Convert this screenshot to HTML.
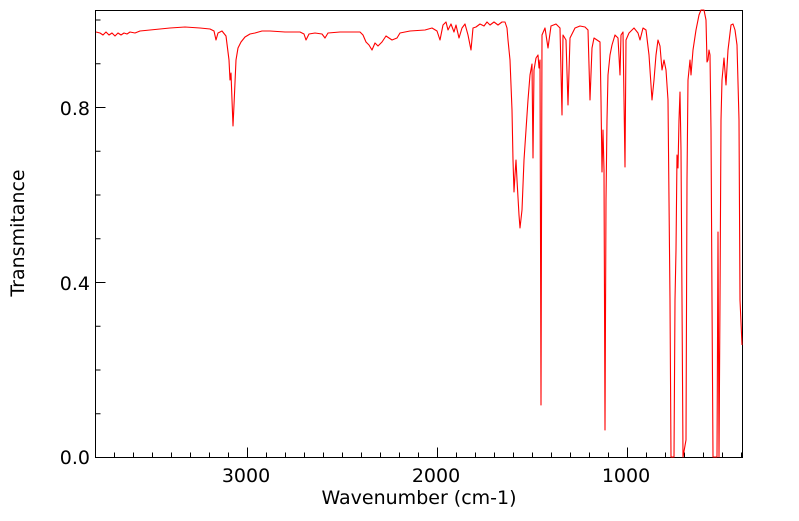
<!DOCTYPE html>
<html><head><style>
body{margin:0;background:#fff;width:799px;height:516px;overflow:hidden}
svg text{font-family:"DejaVu Sans","Liberation Sans",sans-serif;fill:#000}
</style></head><body>
<svg width="799" height="516" xmlns="http://www.w3.org/2000/svg">
<rect x="95.5" y="10.5" width="647" height="447" fill="none" stroke="#000" stroke-width="1"/>
<g stroke="#000" stroke-width="1" id="ticks"></g>
<g font-size="19">
<text x="246" y="482" text-anchor="middle">3000</text>
<text x="436" y="482" text-anchor="middle">2000</text>
<text x="626" y="482" text-anchor="middle">1000</text>
<text x="90" y="464" text-anchor="end">0.0</text>
<text x="90" y="290" text-anchor="end">0.4</text>
<text x="90" y="115" text-anchor="end">0.8</text>
<text x="419" y="504" text-anchor="middle">Wavenumber (cm-1)</text>
<text transform="translate(24,233) rotate(-90)" text-anchor="middle">Transmitance</text>
</g>
<polyline fill="none" stroke="#ff0000" stroke-width="1.1" stroke-linejoin="round" points="
96,32 100,33 103,35 106,32 109,35 112,33 115,36 118,33 121,35 124,33 127,34 130,32 135,33 140,31 150,30 160,29 170,28 185,27 200,28 210,29 214,31 216,40 218,33 222,31 226,36 229,60 230,80 231,73 232,100 233,126 234,105 236,60 238,48 241,42 245,37 250,34 255,33 262,31 270,31 285,32 300,32 304,34 306,40 309,34 315,33 322,34 325,38 328,33 340,32 360,32 363,35 366,42 369,45 372,50 375,43 378,46 382,42 386,36 392,40 397,38 400,33 410,31 425,30 432,28 437,31 440,40 443,25 446,22 448,30 451,24 454,32 456,25 459,38 462,28 465,24 468,35 471,50 473,28 476,27 480,24 484,26 487,22 490,25 494,22 498,25 502,22 505,22 507,28 508,40 510,60 512,110 513,160 514,192 515,175 516,160 517,180 519,215 520,228 522,210 524,160 526,130 528,100 530,75 532,64 533,158 534,70 536,58 538,55 539,68 540,60 541,405 542,35 545,28 548,48 551,26 556,24 560,28 562,115 563,35 566,40 568,105 570,38 575,28 580,26 585,27 588,30 590,100 592,48 594,38 597,40 600,42 601,100 602,172 603,130 604,170 605,430 606,200 607,120 608,75 610,55 612,45 615,35 618,38 620,75 621,35 623,32 625,167 626,40 629,33 634,28 638,33 640,40 643,28 646,30 649,55 652,100 654,80 656,55 658,40 660,46 662,70 664,60 666,70 668,100 669,200 670,300 671,457 674,457 675,300 676,250 677,155 678,168 679,120 680,92 681,150 682,300 683,457 686,440 687,180 688,80 690,60 691,75 693,50 696,30 699,15 701,10 704,10 706,20 707,62 708,60 709,50 710,55 711,130 712,300 713,457 717,457 718,232 719,457 720,300 721,120 722,80 724,58 726,85 728,50 731,25 733,24 735,30 737,45 739,120 740,300 742,345"/>
</svg>
<script>
var g=document.getElementById('ticks'),s='';
for(var w=3800;w>=400;w-=100){var x=95.5+(3800-w)*0.19;if(x>742)break;var L=(w%1000==0)?10:5;s+='<line x1="'+x+'" y1="457.5" x2="'+x+'" y2="'+(457.5-L)+'"/>';}
for(var i=0;i<=10;i++){var y=457.5-i*43.75;var L=(i%4==0)?10:5;s+='<line x1="95.5" y1="'+y+'" x2="'+(95.5+L)+'" y2="'+y+'"/>';}
g.innerHTML=s;
</script>
</body></html>
